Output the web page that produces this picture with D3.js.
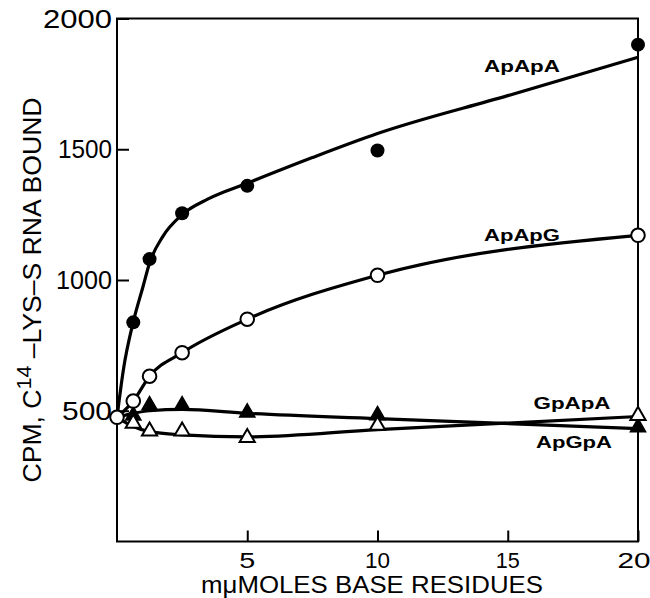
<!DOCTYPE html>
<html><head><meta charset="utf-8">
<script src="https://cdn.jsdelivr.net/npm/d3@7"></script>
<style>body{margin:0;background:#fff}svg{display:block}text{font-family:"Liberation Sans",Arial,sans-serif;fill:#000}</style>
</head><body>
<script>
// ---- data ----
const xValues = [0, 0.625, 1.25, 2.5, 5, 10, 20];
const apApA = [null, 838, 1080, 1255, 1360, 1495, 1900];   // filled circles
const apApG = [475, 537, 632, 722, 850, 1018, 1171];       // open circles
const gpApA = [null, 448, 418, 418, 393, 440, 478];        // open triangles
const apGpA = [null, 478, 517, 517, 489, 479, 433];        // filled triangles

// smooth drawn curves
const fitAx = [0, 0.25, 0.625, 1, 1.25, 1.75, 2.5, 3.5, 5, 7.5, 10, 15, 20];
const fitA  = [475, 660, 840, 975, 1065, 1165, 1250, 1310, 1370, 1468, 1560, 1705, 1852];
const fitGx = [0, 0.625, 1.25, 2.5, 5, 10, 20];
const fitApGpA = [475, 490, 500, 505, 490, 470, 432];
const fitGpApA = [475, 440, 420, 408, 400, 428, 478];

const yTicks = [500, 1000, 1500, 2000];
const xTicks = [5, 10, 15, 20];
const yTickLabels = ["500", "1000", "1500", "2000"];
const xTickLabels = ["5", "10", "15", "20"];

const W = 650, H = 598;
const svg = d3.select("body").append("svg").attr("width", W).attr("height", H);
const x = d3.scaleLinear().domain([0, 20]).range([117, 638]);
const y = d3.scaleLinear().domain([0, 2000]).range([541.5, 18.5]);

// frame
svg.append("rect").attr("x", x(0)).attr("y", y(2000)).attr("width", x(20) - x(0)).attr("height", y(0) - y(2000))
  .attr("fill", "none").attr("stroke", "#000").attr("stroke-width", 2);

// axes (ticks inward)
const yAxis = d3.axisRight(y).tickValues(yTicks).tickSize(12).tickFormat("");
const gy = svg.append("g").attr("transform", `translate(${x(0)},0)`).call(yAxis);
const xAxis = d3.axisTop(x).tickValues(xTicks).tickSize(11).tickFormat("");
const gx = svg.append("g").attr("transform", `translate(0,${y(0)})`).call(xAxis);
[gy, gx].forEach(g => { g.select(".domain").remove(); g.selectAll("line").attr("stroke", "#000").attr("stroke-width", 2); });

// tick labels
const yLabW = {"500": 50, "1000": 56, "1500": 54, "2000": 69};
yTicks.forEach((v, i) => {
  svg.append("text").attr("x", 112).attr("y", y(v)).attr("dy", "0.36em").attr("text-anchor", "end")
    .attr("font-size", 25).attr("textLength", yLabW[yTickLabels[i]]).attr("lengthAdjust", "spacingAndGlyphs")
    .text(yTickLabels[i]);
});
const xLabW = {"5": 16, "10": 25, "15": 24, "20": 33};
xTicks.forEach((v, i) => {
  svg.append("text").attr("x", x(v) - (v === 20 ? 4 : 0)).attr("y", 560).attr("dy", "0.36em").attr("text-anchor", "middle")
    .attr("font-size", 22).attr("textLength", xLabW[xTickLabels[i]]).attr("lengthAdjust", "spacingAndGlyphs")
    .text(xTickLabels[i]);
});

// axis titles
svg.append("text").attr("x", 372).attr("y", 585).attr("dy", "0.36em").attr("text-anchor", "middle")
  .attr("font-size", 23).attr("textLength", 342).attr("lengthAdjust", "spacingAndGlyphs")
  .text("mμMOLES BASE RESIDUES");
const yt = svg.append("text").attr("transform", "translate(41,290) rotate(-90)").attr("text-anchor", "middle")
  .attr("font-size", 26).attr("textLength", 385).attr("lengthAdjust", "spacingAndGlyphs");
yt.append("tspan").text("CPM, C");
yt.append("tspan").attr("dy", -10).attr("font-size", 21).text("14");
yt.append("tspan").attr("dy", 10).text(" –LYS–S RNA BOUND");

// curves
const line = d3.line().x(d => x(d[0])).y(d => y(d[1])).curve(d3.curveMonotoneX);
const drawCurve = (xs, ys) => svg.append("path").datum(xs.map((v, i) => [v, ys[i]]))
  .attr("d", line).attr("fill", "none").attr("stroke", "#000").attr("stroke-width", 3.2);
drawCurve(fitAx, fitA);
drawCurve(xValues, apApG);
drawCurve(fitGx, fitApGpA);
drawCurve(fitGx, fitGpApA);

// markers
const pts = ys => xValues.map((v, i) => [v, ys[i]]).filter(d => d[1] !== null);
const tri = d3.symbol().type(d3.symbolTriangle).size(100);
svg.selectAll(".ft").data(pts(apGpA)).join("path").attr("d", tri)
  .attr("transform", d => `translate(${x(d[0])},${y(d[1]) - 1})`).attr("fill", "#000").attr("stroke", "#000").attr("stroke-width", 1.5);
svg.selectAll(".ot").data(pts(gpApA)).join("path").attr("d", tri)
  .attr("transform", d => `translate(${x(d[0])},${y(d[1]) - 1})`).attr("fill", "#fff").attr("stroke", "#000").attr("stroke-width", 2);
svg.selectAll(".oc").data(pts(apApG)).join("circle").attr("cx", d => x(d[0])).attr("cy", d => y(d[1])).attr("r", 6.8)
  .attr("fill", "#fff").attr("stroke", "#000").attr("stroke-width", 2);
svg.selectAll(".fc").data(pts(apApA)).join("circle").attr("cx", d => x(d[0])).attr("cy", d => y(d[1])).attr("r", 7)
  .attr("fill", "#000");

// curve labels
const lab = (t, cx, cy, w) => svg.append("text").attr("x", cx).attr("y", cy).attr("dy", "0.36em").attr("text-anchor", "middle")
  .attr("font-size", 17).attr("font-weight", "bold").attr("textLength", w).attr("lengthAdjust", "spacingAndGlyphs").text(t);
lab("ApApA", 522, 66, 76);
lab("ApApG", 522, 235, 76);
lab("GpApA", 572, 403, 77);
lab("ApGpA", 574, 442, 76);
</script>
</body></html>
